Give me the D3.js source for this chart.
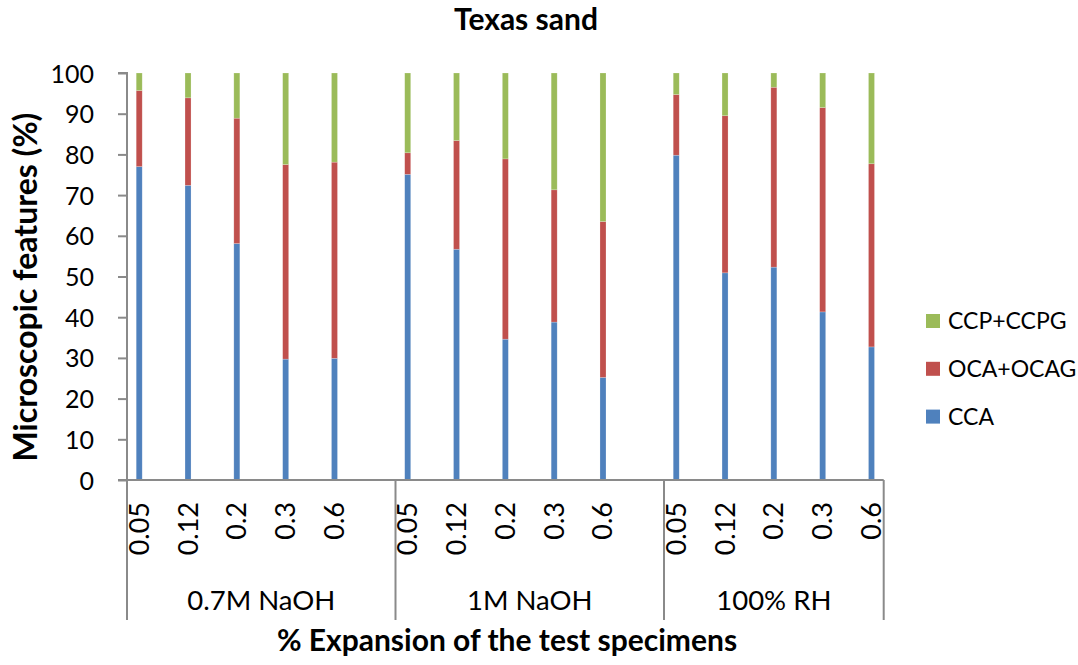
<!DOCTYPE html>
<html>
<head>
<meta charset="utf-8">
<script src="https://cdn.jsdelivr.net/npm/d3@7"></script>
<style>
  html, body { margin: 0; padding: 0; background: #fff; }
  svg { display: block; }
  text { font-family: Lato, "Open Sans", sans-serif; fill: #000; }
</style>
</head>
<body>
<svg id="chart" width="1078" height="665"></svg>
<script>
// ---- data ----
const groups = ["0.7M NaOH", "1M NaOH", "100% RH"];
const expansions = ["0.05", "0.12", "0.2", "0.3", "0.6"];
const seriesNames = ["CCA", "OCA+OCAG", "CCP+CCPG"];
const ccaValues = [77.0, 72.4, 58.1, 29.7, 29.9,   75.1, 56.7, 34.6, 38.8, 25.2,   79.8, 50.9, 52.3, 41.3, 32.7];
const ocaValues = [18.7, 21.5, 30.8, 47.8, 48.2,   5.3, 26.7, 44.3, 32.5, 38.3,    14.9, 38.6, 44.2, 50.2, 45.0];
const ccpValues = [4.3, 6.1, 11.1, 22.5, 21.9,     19.6, 16.6, 21.1, 28.7, 36.5,   5.3, 10.5, 3.5, 8.5, 22.3];
const yTicks = [0, 10, 20, 30, 40, 50, 60, 70, 80, 90, 100];
const colors = ["#4F81BD", "#C0504D", "#9BBB59"];

// ---- build rows ----
const groupSpan = expansions.length + 0.5; // trailing blank half-slot between groups
const rows = [];
groups.forEach((g, gi) => {
  expansions.forEach((e, ei) => {
    const idx = gi * expansions.length + ei;
    rows.push({
      group: g, gi, exp: e,
      slot: gi * groupSpan + ei,
      "CCA": ccaValues[idx],
      "OCA+OCAG": ocaValues[idx],
      "CCP+CCPG": ccpValues[idx]
    });
  });
});

const svg = d3.select("#chart");
const plot = { left: 127, right: 883.7, top: 73, bottom: 480 };
const firstSlot = d3.min(rows, d => d.slot), lastSlot = d3.max(rows, d => d.slot);

const x = d3.scaleLinear().domain([firstSlot - 0.25, lastSlot + 0.25]).range([plot.left, plot.right]);
const y = d3.scaleLinear().domain([0, 100]).range([plot.bottom, plot.top]);
const axisColor = "#8a8a8a";

// ---- bars ----
const stack = d3.stack().keys(seriesNames)(rows);
const barW = 6;
svg.append("g").selectAll("g").data(stack).join("g")
  .attr("fill", (d, i) => colors[i])
  .selectAll("rect").data(d => d).join("rect")
  .attr("x", d => x(d.data.slot) - barW / 2)
  .attr("width", barW)
  .attr("y", d => y(d[1]))
  .attr("height", d => y(d[0]) - y(d[1]))
  .attr("stroke", "rgba(255,255,255,0.35)")
  .attr("stroke-width", 0.6);

// ---- y axis ----
const yAxis = d3.axisLeft(y).tickValues(yTicks).tickSize(9).tickPadding(24).tickFormat(d3.format("d"));
const yg = svg.append("g").attr("transform", `translate(${plot.left},0)`).call(yAxis);
yg.select(".domain").attr("stroke", axisColor).attr("stroke-width", 2).attr("d", `M-9,${plot.top}H0V${plot.bottom}`);
yg.selectAll(".tick line").attr("stroke", axisColor).attr("stroke-width", 2);
yg.selectAll(".tick text").attr("font-size", 25).attr("font-family", "Lato, sans-serif").attr("fill", "#000").attr("x", -33).attr("dy", "0.36em");

// ---- x axis (multi-level) ----
const xg = svg.append("g");
xg.append("line").attr("x1", plot.left - 9).attr("x2", plot.right)
  .attr("y1", plot.bottom).attr("y2", plot.bottom)
  .attr("stroke", axisColor).attr("stroke-width", 2);

// group boundaries
const bounds = groups.map((g, gi) => {
  const slots = rows.filter(r => r.gi === gi).map(r => r.slot);
  return { g, start: d3.min(slots) - 0.25, end: gi < groups.length - 1 ? (gi + 1) * groupSpan - 0.25 : d3.max(slots) + 0.25 };
});
const sepY2 = 620;
const sepXs = [bounds[0].start, ...bounds.map(b => b.end)];
xg.selectAll("line.sep").data(sepXs).join("line").attr("class", "sep")
  .attr("x1", d => x(d)).attr("x2", d => x(d))
  .attr("y1", plot.bottom).attr("y2", sepY2)
  .attr("stroke", axisColor).attr("stroke-width", 2);

// expansion tick labels
xg.selectAll("text.exp").data(rows).join("text").attr("class", "exp")
  .attr("transform", d => `translate(${x(d.slot) + 9.5},502) rotate(-90)`)
  .attr("text-anchor", "end")
  .attr("font-size", 27)
  .text(d => d.exp);

// group labels
xg.selectAll("text.grp").data(bounds).join("text").attr("class", "grp")
  .attr("x", d => (x(d.start) + x(d.end)) / 2)
  .attr("y", 610)
  .attr("text-anchor", "middle")
  .attr("font-size", 27.5)
  .text(d => d.g);

// ---- titles ----
svg.append("text").attr("x", 526).attr("y", 30).attr("text-anchor", "middle")
  .attr("font-size", 30).attr("font-weight", "bold").text("Texas sand");
svg.append("text").attr("x", 507).attr("y", 651).attr("text-anchor", "middle")
  .attr("font-size", 30).attr("font-weight", "bold").text("% Expansion of the test specimens");
svg.append("text").attr("transform", "translate(37,287) rotate(-90)").attr("text-anchor", "middle")
  .attr("font-size", 32).attr("font-weight", "bold").text("Microscopic features (%)");

// ---- legend ----
const legendItems = seriesNames.map((s, i) => ({ s, c: colors[i] })).reverse();
const lg = svg.append("g").attr("transform", "translate(926,321)");
const li = lg.selectAll("g").data(legendItems).join("g")
  .attr("transform", (d, i) => `translate(0,${i * 47.8})`);
li.append("rect").attr("x", 0).attr("y", -7).attr("width", 14).attr("height", 14).attr("fill", d => d.c);
li.append("text").attr("x", 22).attr("y", 0).attr("dy", "0.36em").attr("font-size", 23).text(d => d.s);
</script>
</body>
</html>
